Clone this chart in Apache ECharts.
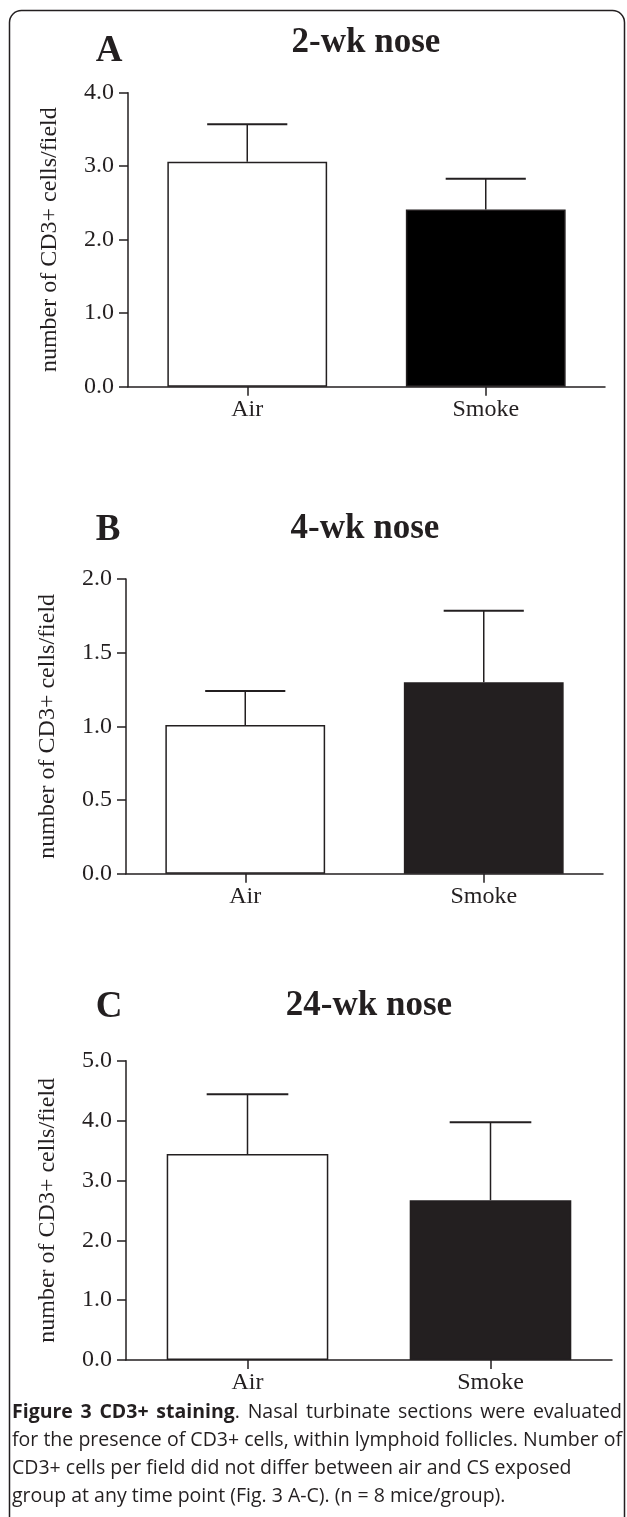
<!DOCTYPE html>
<html><head><meta charset="utf-8">
<script src="https://cdn.jsdelivr.net/npm/echarts@6/dist/echarts.min.js"></script>
<style>html,body{margin:0;padding:0;background:#fff}#c{width:627px;height:1517px}</style>
</head><body><div id="c"></div>
<script>
// ---------- data ----------
const categories = ['Air', 'Smoke'];
const panelLetters = ['A', 'B', 'C'];
const panelTitles = ['2-wk nose', '4-wk nose', '24-wk nose'];
const meansA = [3.06, 2.41];
const errsA = [0.51, 0.42];
const meansB = [1.01, 1.30];
const errsB = [0.23, 0.485];
const meansC = [3.44, 2.67];
const errsC = [1.00, 1.30];
const yMaxs = [4.0, 2.0, 5.0];
const yIntervals = [1.0, 0.5, 1.0];
const yAxisName = 'number of CD3+ cells/field';
const captionLines = [
  'Figure 3 CD3+ staining. Nasal turbinate sections were evaluated',
  'for the presence of CD3+ cells, within lymphoid follicles. Number of',
  'CD3+ cells per field did not differ between air and CS exposed',
  'group at any time point (Fig. 3 A-C). (n = 8 mice/group).'
];
const captionBoldWords = 4;
const captionJustify = [true, true, false, false];

// ---------- layout ----------
const means = [meansA, meansB, meansC];
const errs = [errsA, errsB, errsC];
const INK = '#231f20';
const SERIF = '"Liberation Serif", "Times New Roman", serif';
const SANS = '"Open Sans", "Noto Sans", sans-serif';
const grids = [
  {left: 128, top: 92.7, width: 477, height: 294},
  {left: 126, top: 579, width: 477, height: 294.7},
  {left: 126, top: 1060.7, width: 486, height: 299.3}
];
const barWidths = ['67%', '67%', '66.5%'];
const smokeColors = ['#000000', INK, INK];
const letterPos = [[109, 51], [108, 530], [109, 1007]];
const titlePos = [[366, 43], [365, 529], [369, 1006]];

const option = {
  animation: false,
  backgroundColor: '#fff',
  grid: grids.map(g => Object.assign({containLabel: false}, g)),
  xAxis: grids.map((g, i) => ({
    type: 'category', gridIndex: i, data: categories,
    axisLine: {show: true, lineStyle: {color: INK, width: 1.5}},
    axisTick: {show: true, alignWithLabel: true, length: 9, lineStyle: {color: INK, width: 1.5}},
    axisLabel: {color: INK, fontFamily: SERIF, fontSize: 24, margin: 11}
  })),
  yAxis: grids.map((g, i) => ({
    type: 'value', gridIndex: i, min: 0, max: yMaxs[i], interval: yIntervals[i],
    axisLine: {show: true, lineStyle: {color: INK, width: 1.5}},
    axisTick: {show: true, length: 9, lineStyle: {color: INK, width: 1.5}},
    splitLine: {show: false},
    axisLabel: {color: INK, fontFamily: SERIF, fontSize: 24, margin: 14,
      formatter: v => v.toFixed(1)},
    name: yAxisName, nameLocation: 'middle', nameGap: 66,
    nameTextStyle: {color: INK, fontFamily: SERIF, fontSize: 24}
  })),
  series: []
};

means.forEach((m, i) => {
  option.series.push({
    type: 'bar', xAxisIndex: i, yAxisIndex: i, barWidth: barWidths[i],
    data: m.map((v, j) => ({
      value: v,
      itemStyle: {color: j === 0 ? '#ffffff' : smokeColors[i], borderColor: INK, borderWidth: 1.5}
    })),
    z: 2
  });
  option.series.push({
    type: 'custom', xAxisIndex: i, yAxisIndex: i, z: 3,
    data: m.map((v, j) => [j, v, errs[i][j]]),
    renderItem: (params, api) => {
      const x = api.value(0), mean = api.value(1), e = api.value(2);
      const base = api.coord([x, mean]);
      const top = api.coord([x, mean + e]);
      const half = api.size([1, 0])[0] * 0.168;
      return {
        type: 'group',
        children: [
          {type: 'line', shape: {x1: base[0], y1: base[1], x2: top[0], y2: top[1]},
           style: {stroke: INK, lineWidth: 1.5}},
          {type: 'line', shape: {x1: top[0] - half, y1: top[1], x2: top[0] + half, y2: top[1]},
           style: {stroke: INK, lineWidth: 2}}
        ]
      };
    }
  });
});

// graphics: frame, panel letters, titles, caption
const graphics = [
  {type: 'rect', shape: {x: 9.5, y: 10.5, width: 615, height: 1580, r: 12},
   style: {fill: 'none', stroke: INK, lineWidth: 1.5}, silent: true}
];
panelLetters.forEach((L, i) => {
  graphics.push({type: 'text', x: letterPos[i][0], y: letterPos[i][1],
    style: {text: L, font: 'bold 37px ' + SERIF, fill: INK, textAlign: 'center', textVerticalAlign: 'middle'}});
  graphics.push({type: 'text', x: titlePos[i][0], y: titlePos[i][1],
    style: {text: panelTitles[i], font: 'bold 35px ' + SERIF, fill: INK, textAlign: 'center', textVerticalAlign: 'middle'}});
});

const ctx = document.createElement('canvas').getContext('2d');
const CAP_FS = 19.5;
function fontOf(bold) { return (bold ? 'bold ' : '') + CAP_FS + 'px ' + SANS; }
function measure(t, bold) { ctx.font = fontOf(bold); return ctx.measureText(t).width; }
const capLeft = 12, capRight = 622, capY0 = 1412, capDy = 28;
captionLines.forEach((line, li) => {
  const words = line.split(' ');
  const pieces = words.map((w, wi) => {
    const bold = li === 0 && wi < captionBoldWords;
    if (bold && w.endsWith('.')) {
      const b = w.slice(0, -1);
      return [{t: b, bold: true, w: measure(b, true)}, {t: '.', bold: false, w: measure('.', false)}];
    }
    return [{t: w, bold: bold, w: measure(w, bold)}];
  });
  const wordW = pieces.map(p => p.reduce((s, q) => s + q.w, 0));
  const total = wordW.reduce((s, v) => s + v, 0);
  const spaceW = captionJustify[li] ? (capRight - capLeft - total) / (words.length - 1) : measure(' ', false);
  let x = capLeft;
  const y = capY0 + li * capDy;
  pieces.forEach((p, wi) => {
    let px = x;
    p.forEach(q => {
      graphics.push({type: 'text', x: px, y: y,
        style: {text: q.t, font: fontOf(q.bold), fill: INK, textAlign: 'left', textVerticalAlign: 'middle'}});
      px += q.w;
    });
    x += wordW[wi] + spaceW;
  });
});
option.graphic = graphics;

const chart = echarts.init(document.getElementById('c'), null, {renderer: 'canvas'});
chart.setOption(option);
</script>
</body></html>
